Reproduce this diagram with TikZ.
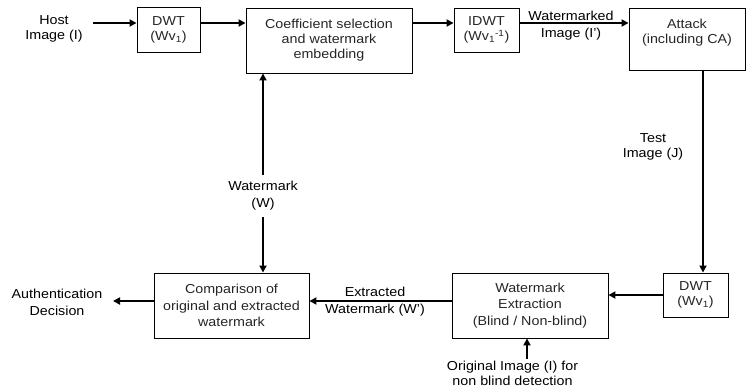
\documentclass[tikz,border=0pt]{standalone}
\usepackage{fontspec}
\setmainfont[FakeStretch=1.1]{Liberation Sans}
\usetikzlibrary{arrows.meta}

\tikzset{
	blk/.style={draw, line width=0.9pt, align=center, inner sep=0pt, text=black!85},
	lbl/.style={align=center, inner sep=1pt},
	arr/.style={line width=2pt, -{Triangle[length=7pt,width=7pt]}},
}

\begin{document}
\begin{tikzpicture}[x=1pt, y=-1pt, font=\fontsize{13}{15}\selectfont]
\useasboundingbox (0,0) rectangle (746,389);

% Bloques superiores
\node[blk, minimum width=63pt, minimum height=45pt] (dwta) at (168.5,29.5) {DWT\\(Wv\textsubscript{1})};
\node[blk, minimum width=166pt, minimum height=65pt] (coef) at (329,40.5) {Coefficient selection\\and watermark\\embedding};
\node[blk, minimum width=65pt, minimum height=44pt] (idwt) at (486.5,30) {IDWT\\(Wv\textsubscript{1}\textsuperscript{-1})};
\node[blk, minimum width=116pt, minimum height=62pt] (attack) at (687,39) {Attack\\(including CA)\\~};

% Bloques inferiores
\node[blk, minimum width=65pt, minimum height=44pt] (dwtb) at (695.5,295) {DWT\\(Wv\textsubscript{1})};
\node[blk, minimum width=156pt, minimum height=65pt, font=\fontsize{13}{16.5}\selectfont] (extr) at (530,305.5) {Watermark\\Extraction\\(Blind / Non-blind)};
\node[blk, minimum width=155pt, minimum height=65pt, font=\fontsize{13}{16.5}\selectfont] (comp) at (231.5,305.5) {Comparison of\\original and extracted\\watermark};

% Etiquetas
\node[lbl] (host) at (54,29) {Host\\Image (I)};
\node[lbl, font=\fontsize{13}{17}\selectfont] (wmimg) at (571,25.5) {Watermarked\\Image (I')};
\node[lbl] (test) at (653,147) {Test\\Image (J)};
\node[lbl, font=\fontsize{13}{17}\selectfont] (wm) at (263,196) {Watermark\\(W)};
\node[lbl, font=\fontsize{13}{17}\selectfont] (wext) at (375,301.5) {Extracted\\Watermark (W')};
\node[lbl, font=\fontsize{13}{17}\selectfont] (auth) at (57,302) {Authentication\\Decision};
\node[lbl, anchor=north] (orig) at (512.5,359.5) {Original Image (I) for\\non blind detection};

\coordinate (toprow) at (0,23);
\coordinate (hostout) at (93,23);
\coordinate (rcol) at (703,0);
\coordinate (botrow) at (0,301);
\coordinate (decin) at (113,301);
\coordinate (orgup) at (527,359);

% Flechas
\draw[arr] (hostout) -- (dwta.west |- toprow);
\foreach \a/\b in {dwta/coef, coef/idwt, idwt/attack}
	\draw[arr] (\a.east |- toprow) -- (\b.west |- toprow);

\draw[arr] (attack.south -| rcol) -- (dwtb.north -| rcol);
\draw[arr] (dwtb.west) -- (dwtb.west -| extr.east);
\draw[arr] (extr.west |- botrow) -- (comp.east |- botrow);
\draw[arr] (comp.west |- botrow) -- (decin);

\draw[arr] ([yshift=5pt]wm.north) -- (wm.north |- coef.south);
\draw[arr] ([yshift=-5pt]wm.south) -- (wm.south |- comp.north);
\draw[arr] (orgup) -- (extr.south -| orgup);

\end{tikzpicture}
\end{document}
